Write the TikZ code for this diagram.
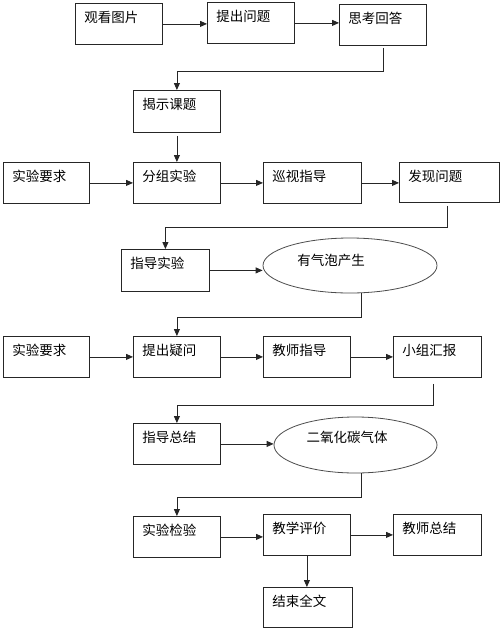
\documentclass[tikz,border=0pt]{standalone}
\usepackage{fontspec}
\newfontfamily\cjk{Noto Sans CJK SC}
\usetikzlibrary{arrows.meta,shapes.geometric}
\begin{document}
\begin{tikzpicture}[x=1pt,y=-1pt,
  every node/.style={font=\cjk\fontsize{13.5}{15}\selectfont},
  box/.style={draw=black!85, line width=0.8pt, anchor=north west, inner xsep=9pt, inner ysep=0pt,
    text height=19.5pt, text depth=21.5pt, align=left, text width=#1},
  oval/.style={draw=black!70, line width=0.8pt, ellipse, inner sep=0pt},
  arr/.style={draw=black!85, line width=0.8pt, -{Triangle[length=7pt,width=6pt]}}]
\fill[white] (0,0) rectangle (500,630);
\useasboundingbox (0,0) rectangle (500,630);
% row 1
\node[box=69pt] (b1) at (75,3) {观看图片};
\node[box=69pt] (b2) at (207,2) {提出问题};
\node[box=69pt] (b3) at (339,4) {思考回答};
\node[box=69pt, text depth=22.5pt] (b4) at (133,90) {揭示课题};
% row 2
\node[box=68pt] (b5) at (3,162) {实验要求};
\node[box=69pt] (b6) at (133,162) {分组实验};
\node[box=80pt] (b7) at (263,162) {巡视指导};
\node[box=82pt, text depth=20.5pt] (b8) at (399,162) {发现问题};
\node[box=70pt, text depth=22.5pt] (b9) at (121,249) {指导实验};
\node[oval, minimum width=174pt, minimum height=55pt,
  label={[xshift=-19pt,yshift=5.5pt]center:有气泡产生}] (e1) at (350,265.5) {};
% row 3
\node[box=68pt] (b10) at (3,336) {实验要求};
\node[box=69pt] (b11) at (133,336) {提出疑问};
\node[box=69pt] (b12) at (263,336) {教师指导};
\node[box=70pt] (b13) at (393,336) {小组汇报};
\node[box=69pt] (b14) at (133,423) {指导总结};
\node[oval, minimum width=163pt, minimum height=56pt,
  label={[xshift=-8.5pt,yshift=8pt]center:二氧化碳气体}] (e2) at (355.5,445) {};
% row 4
\node[box=69pt] (b15) at (133,516) {实验检验};
\node[box=69pt] (b16) at (263,514) {教学评价};
\node[box=70pt] (b17) at (393,514) {教师总结};
\node[box=71pt, text depth=20.5pt] (b18) at (263,587) {结束全文};
% connectors
\draw[arr] (b1.east) -- (b1.east -| b2.west);
\draw[arr] (b2.east) -- (b2.east -| b3.west);
\draw[arr] ([yshift=-2pt]b3.south) -- (b3.south |- 0,71) -| (b4.north);
\draw[arr] ([yshift=-3pt]b4.south) -- (b6.north);
\draw[arr] (b5.east) -- (b5.east -| b6.west);
\draw[arr] (b6.east) -- (b6.east -| b7.west);
\draw[arr] (b7.east) -- (b7.east -| b8.west);
\draw[arr] ([xshift=-2pt,yshift=-3pt]b8.south) -- ([xshift=-2pt]b8.south |- 0,227) -| (b9.north);
\draw[arr] (b9.east) -- (b9.east -| e1.west);
\draw[arr] ([xshift=11pt]e1.south) -- ++(0,24) -| (b11.north);
\draw[arr] (b10.east) -- (b10.east -| b11.west);
\draw[arr] (b11.east) -- (b11.east -| b12.west);
\draw[arr] (b12.east) -- (b12.east -| b13.west);
\draw[arr] ([xshift=-4pt,yshift=-6pt]b13.south) -- ([xshift=-4pt]b13.south |- 0,405) -| (b14.north);
\draw[arr] (b14.east) -- (b14.east -| e2.west);
\draw[arr] ([xshift=5.5pt]e2.south) -- ++(0,24) -| (b15.north);
\draw[arr] (b15.east) -- (b15.east -| b16.west);
\draw[arr] (b16.east) -- (b16.east -| b17.west);
\draw[arr] (b16.south) -- (b16.south |- b18.north);
\end{tikzpicture}
\end{document}
